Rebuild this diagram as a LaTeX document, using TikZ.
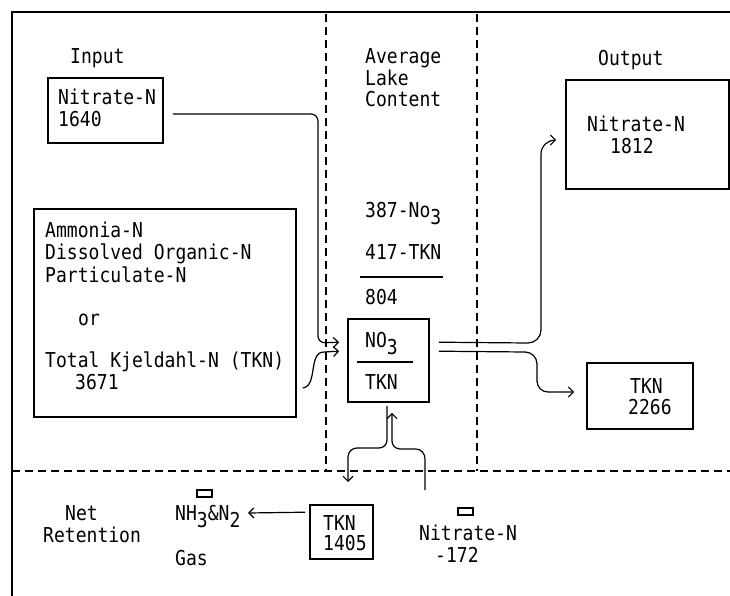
\documentclass[tikz,border=0pt]{standalone}
\usepackage{fontspec}
\usetikzlibrary{arrows.meta,calc}
\newfontfamily\tw{DejaVu Sans Mono}[FakeStretch=0.88]
\newcommand\lowr[1]{\raisebox{-7pt}{#1}}
\tikzset{
  txt/.style={font=\tw\fontsize{20.5}{22.5}\selectfont, inner sep=0pt, anchor=base west},
  boxn/.style={draw, line width=1.6pt, inner sep=0pt},
  tinybox/.style={draw, line width=1.1pt, minimum width=15pt, minimum height=7pt, inner sep=0pt},
  conn/.style={line width=1.2pt},
  arr/.style={conn, -{Straight Barb[length=5pt,width=10pt,line width=1.2pt]}},
  divider/.style={line width=1.1pt, dash pattern=on 8pt off 5pt},
  frame/.style={line width=1.5pt}
}
\begin{document}
\begin{tikzpicture}[x=1pt,y=-1pt]
\useasboundingbox (0,0) rectangle (730,596);
% frame and dividers
\draw[frame] (12,596) -- (12,12) -- (730,12);
\draw[divider] (12,471) -- (730,471);
\draw[divider] (326,14) -- (326,471);
\draw[divider] (477,14) -- (477,471);

% boxes
\node[boxn, minimum width=115pt, minimum height=65pt] (inN) at (105.5,110.5) {};
\node[boxn, minimum width=262pt, minimum height=208pt] (inT) at (165,313) {};
\node[boxn, minimum width=81pt, minimum height=83pt] (lake) at (388.5,360.5) {};
\node[boxn, minimum width=163pt, minimum height=109pt] (outN) at (647.5,134.5) {};
\node[boxn, minimum width=106pt, minimum height=66pt] (outT) at (640,396) {};
\node[boxn, minimum width=63pt, minimum height=54pt] (ret) at (341.5,532) {};

% texts: input
\node[txt] (tInput) at (70,64) {Input};
\node[txt] (tInN1) at (58,105) {Nitrate-N};
\node[txt] (tInN2) at (58,127) {1640};
\node[txt] (tA1) at (45,237) {Ammonia-N};
\node[txt] (tA2) at (45,259) {Dissolved Organic-N};
\node[txt] (tA3) at (45,282) {Particulate-N};
\node[txt] (tA4) at (78,325) {or};
\node[txt] (tA5) at (45,367) {Total Kjeldahl-N (TKN)};
\node[txt] (tA6) at (75,389) {3671};

% lake content
\node[txt] (tAv1) at (365,64) {Average};
\node[txt] (tAv2) at (365,86) {Lake};
\node[txt] (tAv3) at (365,107) {Content};
\node[txt] (tL1) at (365,217) {387-No\lowr{3}};
\node[txt] (tL2) at (365,259) {417-TKN};
\coordinate (r1a) at (360,277);
\coordinate (r1b) at (443,277);
\draw[line width=1.3pt] (r1a) -- (r1b);
\node[txt] (tL3) at (365,304) {804};
\node[txt] (tC1) at (365,347) {NO\lowr{3}};
\coordinate (r2a) at (357,362);
\coordinate (r2b) at (413,362);
\draw[line width=1.3pt] (r2a) -- (r2b);
\node[txt] (tC2) at (365,389) {TKN};

% output
\node[txt] (tOut) at (598,66) {Output};
\node[txt] (tO1) at (587,132) {Nitrate-N};
\node[txt] (tO2) at (610,154) {1812};
\node[txt] (tO3) at (630,393) {TKN};
\node[txt] (tO4) at (628,414) {2266};

% retention
\node[txt] (tNet) at (65,520) {Net};
\node[txt] (tRet) at (43,542) {Retention};
\node[txt] (tNH) at (175,520) {NH\lowr{3}\&N\lowr{2}};
\node[tinybox] (bx1) at (204.5,493.5) {};
\node[txt] (tGas) at (175,565) {Gas};
\node[txt] (tR1) at (323,530) {TKN};
\node[txt] (tR2) at (323,550) {1405};
\node[tinybox] (bx2) at (465.5,511.5) {};
\node[txt] (tN1) at (419,540) {Nitrate-N};
\node[txt] (tN2) at (435,562) {-172};
\coordinate (nhEnd) at (248,513);

% connectors
\draw[arr, rounded corners=7pt] ($(inN.east)+(9,3.5)$) -- (318,114) -- (318,343) -- ($(lake.north west)+(-8,24)$);
\draw[arr] ($(inT.east)+(6,75)$) .. controls (318,386) and (308,352) .. (324,352) -- ($(lake.north west)+(-8,33)$);
\draw[arr] ($(lake.north east)+(9,24)$) -- (528,343) to[out=0,in=-90] (541,330) -- (541,154) to[out=90,in=180] ($(outN.west)+(-9,5.5)$);
\draw[arr] ($(lake.north east)+(9,33)$) -- (525,352) to[out=0,in=90] (537,364) -- (537,381) to[out=-90,in=180] (548,392) -- ($(outT.west)+(-12,-4)$);
\draw[arr] (425,490) -- (425,459) to[out=90,in=0] (416,449) -- (400,449) to[out=180,in=-90] (392,441) -- ($(lake.south)+(3.5,10)$);
\draw[arr] ($(lake.south)+(-1.5,3)$) -- (387,440) to[out=-90,in=0] (379,448) -- (357,448) to[out=180,in=90] (348,457) -- (348,482);
\draw[arr] ($(ret.north west)+(-4,8)$) -- (nhEnd);
\end{tikzpicture}
\end{document}
